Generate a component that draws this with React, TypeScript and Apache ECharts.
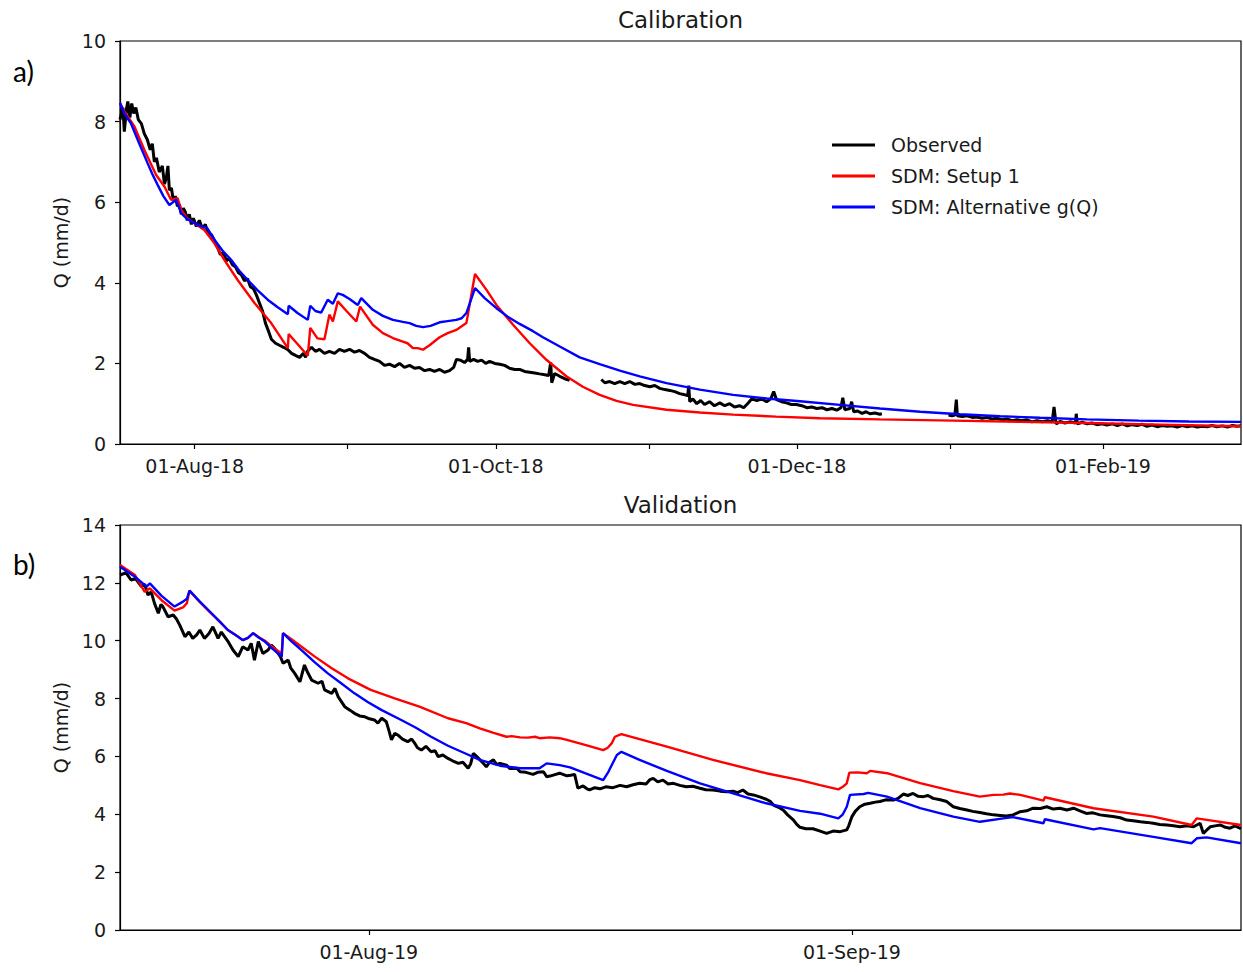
import React, { useEffect, useRef } from "react";
import * as echarts from "echarts";

type Pt = [string, number | null];

// ---------------- Calibration (a) ----------------
const calObserved: Pt[] = [
  ["2018-07-16 21", 8.05], ["2018-07-17 11", 8.35], ["2018-07-17 18", 7.75], ["2018-07-18 04", 8.3],
  ["2018-07-18 11", 8.5], ["2018-07-18 21", 8.1], ["2018-07-19 06", 8.45], ["2018-07-19 16", 8.2],
  ["2018-07-20 02", 8.35], ["2018-07-20 14", 8.05], ["2018-07-21 05", 7.95], ["2018-07-21 19", 7.7],
  ["2018-07-22 10", 7.55], ["2018-07-23 00", 7.3], ["2018-07-23 10", 7.45], ["2018-07-23 20", 7.0],
  ["2018-07-24 06", 7.1], ["2018-07-24 20", 6.75], ["2018-07-25 11", 6.9], ["2018-07-25 21", 6.45],
  ["2018-07-26 06", 6.6], ["2018-07-26 14", 6.9], ["2018-07-26 21", 6.3], ["2018-07-27 07", 6.35],
  ["2018-07-27 16", 6.05], ["2018-07-28 02", 6.15], ["2018-07-28 12", 5.9], ["2018-07-28 22", 5.95],
  ["2018-07-29 07", 5.7], ["2018-07-29 17", 5.85], ["2018-07-30 03", 5.75], ["2018-07-30 12", 5.55],
  ["2018-07-30 22", 5.7], ["2018-07-31 08", 5.45], ["2018-07-31 18", 5.6], ["2018-08-01 08", 5.4],
  ["2018-08-01 23", 5.55], ["2018-08-02 13", 5.35], ["2018-08-03 04", 5.45], ["2018-08-03 19", 5.2],
  ["2018-08-04 09", 5.2], ["2018-08-05 00", 5.05], ["2018-08-05 14", 4.9], ["2018-08-06 05", 4.7],
  ["2018-08-06 20", 4.75], ["2018-08-07 10", 4.55], ["2018-08-08 01", 4.6], ["2018-08-08 15", 4.45],
  ["2018-08-09 06", 4.4], ["2018-08-09 21", 4.25], ["2018-08-10 11", 4.2], ["2018-08-11 02", 4.05],
  ["2018-08-11 17", 4.1], ["2018-08-12 07", 3.9], ["2018-08-12 22", 3.85], ["2018-08-13 12", 3.7],
  ["2018-08-14 03", 3.5], ["2018-08-14 18", 3.3], ["2018-08-15 08", 3.0], ["2018-08-15 23", 2.8],
  ["2018-08-16 13", 2.6], ["2018-08-17 09", 2.5], ["2018-08-18 04", 2.45], ["2018-08-19 00", 2.4],
  ["2018-08-19 19", 2.35], ["2018-08-20 15", 2.25], ["2018-08-21 10", 2.2], ["2018-08-22 06", 2.15],
  ["2018-08-23 01", 2.25], ["2018-08-23 11", 2.15], ["2018-08-23 21", 2.3], ["2018-08-24 16", 2.4],
  ["2018-08-25 11", 2.3], ["2018-08-26 07", 2.35], ["2018-08-27 07", 2.25], ["2018-08-28 07", 2.3],
  ["2018-08-29 08", 2.25], ["2018-08-30 08", 2.35], ["2018-08-31 08", 2.3], ["2018-09-01 09", 2.35],
  ["2018-09-02 09", 2.28], ["2018-09-03 09", 2.32], ["2018-09-04 10", 2.25], ["2018-09-05 10", 2.15],
  ["2018-09-06 10", 2.1], ["2018-09-07 11", 2.05], ["2018-09-08 11", 1.95], ["2018-09-09 11", 1.98],
  ["2018-09-10 12", 1.92], ["2018-09-11 12", 2.0], ["2018-09-12 12", 1.9], ["2018-09-13 13", 1.95],
  ["2018-09-14 13", 1.88], ["2018-09-15 13", 1.9], ["2018-09-16 14", 1.82], ["2018-09-17 14", 1.85],
  ["2018-09-18 14", 1.8], ["2018-09-19 15", 1.85], ["2018-09-20 15", 1.78], ["2018-09-21 15", 1.82],
  ["2018-09-22 11", 1.9], ["2018-09-23 01", 2.1], ["2018-09-23 21", 2.08], ["2018-09-24 16", 2.02],
  ["2018-09-25 07", 2.1], ["2018-09-25 12", 2.4], ["2018-09-25 17", 2.05], ["2018-09-26 12", 2.1],
  ["2018-09-27 08", 2.05], ["2018-09-28 03", 2.08], ["2018-09-28 23", 2.0], ["2018-09-29 18", 2.05],
  ["2018-09-30 19", 2.0], ["2018-10-01 19", 1.98], ["2018-10-02 19", 1.95], ["2018-10-03 19", 1.88],
  ["2018-10-04 20", 1.85], ["2018-10-05 20", 1.85], ["2018-10-06 20", 1.8], ["2018-10-07 21", 1.78],
  ["2018-10-08 21", 1.76], ["2018-10-09 21", 1.74], ["2018-10-10 22", 1.72], ["2018-10-11 17", 1.7],
  ["2018-10-12 03", 2.02], ["2018-10-12 08", 1.52], ["2018-10-12 22", 1.75], ["2018-10-13 23", 1.68],
  ["2018-10-14 23", 1.62], ["2018-10-15 23", 1.58], ["2018-10-19 00", null],
  ["2018-10-22 09", 1.6], ["2018-10-23 02", 1.52], ["2018-10-24 02", 1.55], ["2018-10-25 02", 1.5],
  ["2018-10-26 03", 1.55], ["2018-10-27 03", 1.5], ["2018-10-28 03", 1.55], ["2018-10-29 04", 1.48],
  ["2018-10-30 04", 1.5], ["2018-10-31 04", 1.45], ["2018-11-01 05", 1.42], ["2018-11-02 05", 1.45],
  ["2018-11-03 05", 1.38], ["2018-11-04 06", 1.35], ["2018-11-05 06", 1.33], ["2018-11-06 06", 1.3],
  ["2018-11-07 06", 1.25], ["2018-11-08 07", 1.22], ["2018-11-08 21", 1.2], ["2018-11-09 02", 1.45],
  ["2018-11-09 07", 1.05], ["2018-11-09 22", 1.12], ["2018-11-10 17", 1.0], ["2018-11-11 12", 1.08],
  ["2018-11-12 07", 0.98], ["2018-11-13 07", 1.05], ["2018-11-14 07", 0.95], ["2018-11-15 09", 1.02],
  ["2018-11-16 09", 0.95], ["2018-11-17 09", 1.0], ["2018-11-18 09", 0.92], ["2018-11-19 09", 0.95],
  ["2018-11-20 05", 0.9], ["2018-11-21 00", 1.0], ["2018-11-21 21", 1.12], ["2018-11-22 21", 1.08],
  ["2018-11-23 21", 1.12], ["2018-11-24 21", 1.05], ["2018-11-25 17", 1.12], ["2018-11-26 07", 1.3],
  ["2018-11-26 21", 1.1], ["2018-11-27 21", 1.05], ["2018-11-28 21", 1.02], ["2018-11-29 21", 0.98],
  ["2018-11-30 21", 0.98], ["2018-12-02 00", 0.95], ["2018-12-03 00", 0.9], ["2018-12-04 00", 0.92],
  ["2018-12-05 00", 0.88], ["2018-12-06 02", 0.9], ["2018-12-07 02", 0.85], ["2018-12-08 02", 0.88],
  ["2018-12-09 02", 0.84], ["2018-12-09 22", 0.9], ["2018-12-10 07", 1.15], ["2018-12-10 17", 0.85],
  ["2018-12-11 17", 0.88], ["2018-12-12 02", 1.05], ["2018-12-12 12", 0.8], ["2018-12-13 07", 0.82],
  ["2018-12-14 05", 0.76], ["2018-12-15 00", 0.8], ["2018-12-15 19", 0.75], ["2018-12-16 19", 0.77],
  ["2018-12-17 19", 0.74], ["2018-12-18 05", 0.75], ["2018-12-25 00", null],
  ["2018-12-31 17", 0.72], ["2019-01-01 10", 0.7], ["2019-01-02 00", 0.72], ["2019-01-02 07", 1.1],
  ["2019-01-02 12", 0.7], ["2019-01-03 12", 0.68], ["2019-01-04 12", 0.7], ["2019-01-05 12", 0.66],
  ["2019-01-06 12", 0.67], ["2019-01-07 12", 0.64], ["2019-01-08 12", 0.66], ["2019-01-09 12", 0.62],
  ["2019-01-10 12", 0.64], ["2019-01-11 14", 0.6], ["2019-01-12 14", 0.62], ["2019-01-13 14", 0.58],
  ["2019-01-14 14", 0.6], ["2019-01-15 14", 0.58], ["2019-01-16 14", 0.6], ["2019-01-17 14", 0.55],
  ["2019-01-18 14", 0.58], ["2019-01-19 17", 0.55], ["2019-01-20 17", 0.58], ["2019-01-21 17", 0.55],
  ["2019-01-22 02", 0.92], ["2019-01-22 12", 0.5], ["2019-01-23 07", 0.56], ["2019-01-24 07", 0.52],
  ["2019-01-25 07", 0.55], ["2019-01-26 10", 0.52], ["2019-01-26 14", 0.75], ["2019-01-26 19", 0.5],
  ["2019-01-27 19", 0.54], ["2019-01-28 19", 0.5], ["2019-01-29 19", 0.52], ["2019-01-30 19", 0.48],
  ["2019-01-31 19", 0.5], ["2019-02-01 19", 0.47], ["2019-02-02 22", 0.5], ["2019-02-03 22", 0.46],
  ["2019-02-04 22", 0.5], ["2019-02-05 22", 0.45], ["2019-02-06 22", 0.48], ["2019-02-07 22", 0.46],
  ["2019-02-08 22", 0.49], ["2019-02-09 22", 0.44], ["2019-02-10 22", 0.47], ["2019-02-12 00", 0.43],
  ["2019-02-13 00", 0.46], ["2019-02-14 00", 0.44], ["2019-02-15 00", 0.45], ["2019-02-16 00", 0.42],
  ["2019-02-17 02", 0.46], ["2019-02-18 02", 0.43], ["2019-02-19 02", 0.45], ["2019-02-20 02", 0.42],
  ["2019-02-21 02", 0.44], ["2019-02-22 02", 0.43], ["2019-02-23 02", 0.46], ["2019-02-24 02", 0.43],
  ["2019-02-25 05", 0.45], ["2019-02-26 05", 0.42], ["2019-02-27 05", 0.46], ["2019-02-28 05", 0.44],
  ["2019-02-28 23", 0.45],
];

const calSetup1: Pt[] = [
  ["2018-07-16 21", 8.46], ["2018-07-17 18", 8.25], ["2018-07-19 19", 7.88], ["2018-07-21 19", 7.3],
  ["2018-07-24 04", 6.68], ["2018-07-25 21", 6.39], ["2018-07-27 05", 6.06], ["2018-07-28 13", 6.1],
  ["2018-07-29 06", 5.81], ["2018-07-30 12", 5.6], ["2018-07-31 23", 5.48], ["2018-08-02 23", 5.31],
  ["2018-08-05 00", 4.98], ["2018-08-07 00", 4.57], ["2018-08-09 17", 4.07], ["2018-08-13 03", 3.5],
  ["2018-08-16 12", 3.0], ["2018-08-19 21", 2.38], ["2018-08-20 01", 2.73], ["2018-08-23 22", 2.19],
  ["2018-08-24 10", 2.88], ["2018-08-25 21", 2.62], ["2018-08-27 07", 2.6], ["2018-08-28 07", 3.21],
  ["2018-08-29 00", 3.04], ["2018-08-30 00", 3.54], ["2018-08-31 18", 3.3], ["2018-09-02 18", 3.04],
  ["2018-09-03 12", 3.41], ["2018-09-06 02", 2.96], ["2018-09-08 03", 2.75], ["2018-09-10 04", 2.63],
  ["2018-09-12 04", 2.54], ["2018-09-13 03", 2.5], ["2018-09-14 05", 2.38], ["2018-09-15 04", 2.38],
  ["2018-09-16 06", 2.34], ["2018-09-17 14", 2.45], ["2018-09-19 15", 2.65], ["2018-09-21 06", 2.75],
  ["2018-09-23 00", 2.83], ["2018-09-24 02", 2.92], ["2018-09-25 01", 3.0], ["2018-09-26 19", 4.22],
  ["2018-09-29 02", 3.83], ["2018-10-01 03", 3.45], ["2018-10-04 12", 2.96], ["2018-10-07 21", 2.5],
  ["2018-10-11 06", 2.09], ["2018-10-15 07", 1.68], ["2018-10-18 15", 1.42], ["2018-10-22 01", 1.22],
  ["2018-10-25 11", 1.07], ["2018-10-28 19", 0.97], ["2018-11-04 14", 0.85], ["2018-11-11 08", 0.78],
  ["2018-11-18 02", 0.73], ["2018-11-26 18", 0.68], ["2018-12-05 16", 0.64], ["2018-12-17 20", 0.61],
  ["2019-01-01 15", 0.58], ["2019-01-15 05", 0.55], ["2019-01-28 18", 0.52], ["2019-02-12 14", 0.48],
  ["2019-02-28 23", 0.44],
];

const calAltGQ: Pt[] = [
  ["2018-07-16 21", 8.46], ["2018-07-17 18", 8.2], ["2018-07-19 02", 7.96], ["2018-07-20 19", 7.45],
  ["2018-07-22 11", 6.97], ["2018-07-23 10", 6.7], ["2018-07-24 12", 6.43], ["2018-07-25 16", 6.15],
  ["2018-07-26 21", 5.93], ["2018-07-28 06", 6.06], ["2018-07-29 06", 5.73], ["2018-07-30 12", 5.58],
  ["2018-07-31 23", 5.48], ["2018-08-01 23", 5.42], ["2018-08-02 23", 5.38], ["2018-08-03 14", 5.35],
  ["2018-08-05 00", 5.07], ["2018-08-06 15", 4.8], ["2018-08-08 09", 4.57], ["2018-08-10 01", 4.3],
  ["2018-08-11 18", 4.07], ["2018-08-13 17", 3.82], ["2018-08-15 19", 3.58], ["2018-08-17 18", 3.4],
  ["2018-08-19 21", 3.22], ["2018-08-20 01", 3.43], ["2018-08-21 20", 3.25], ["2018-08-23 22", 3.08],
  ["2018-08-24 10", 3.43], ["2018-08-25 11", 3.3], ["2018-08-26 15", 3.26], ["2018-08-27 23", 3.58],
  ["2018-08-29 00", 3.48], ["2018-08-30 00", 3.74], ["2018-08-31 00", 3.7], ["2018-09-01 09", 3.6],
  ["2018-09-03 01", 3.45], ["2018-09-03 18", 3.62], ["2018-09-06 02", 3.33], ["2018-09-08 03", 3.18],
  ["2018-09-10 04", 3.08], ["2018-09-12 04", 3.03], ["2018-09-13 13", 3.0], ["2018-09-14 21", 2.93],
  ["2018-09-16 06", 2.9], ["2018-09-17 19", 2.93], ["2018-09-19 15", 3.02], ["2018-09-21 06", 3.05],
  ["2018-09-23 00", 3.08], ["2018-09-24 02", 3.12], ["2018-09-25 01", 3.25], ["2018-09-26 19", 3.87],
  ["2018-09-28 18", 3.62], ["2018-10-01 03", 3.37], ["2018-10-03 10", 3.16], ["2018-10-05 20", 2.98],
  ["2018-10-08 13", 2.8], ["2018-10-10 13", 2.65], ["2018-10-13 23", 2.42], ["2018-10-18 00", 2.15],
  ["2018-10-22 01", 1.98], ["2018-10-26 03", 1.82], ["2018-10-30 04", 1.68], ["2018-11-04 14", 1.51],
  ["2018-11-11 08", 1.35], ["2018-11-18 02", 1.22], ["2018-11-24 21", 1.13], ["2018-12-01 15", 1.06],
  ["2018-12-09 17", 0.97], ["2018-12-17 20", 0.88], ["2018-12-25 23", 0.8], ["2019-01-03 01", 0.74],
  ["2019-01-11 04", 0.69], ["2019-01-19 06", 0.65], ["2019-01-28 18", 0.61], ["2019-02-08 06", 0.58],
  ["2019-02-18 10", 0.56], ["2019-02-28 23", 0.55],
];

// ---------------- Validation (b) ----------------
const valObserved: Pt[] = [
  ["2019-07-16 01", 12.27], ["2019-07-16 10", 12.35], ["2019-07-16 18", 12.1], ["2019-07-17 01", 12.15],
  ["2019-07-17 10", 11.87], ["2019-07-17 15", 11.95], ["2019-07-17 20", 11.58], ["2019-07-18 01", 11.69],
  ["2019-07-18 06", 11.3], ["2019-07-18 12", 10.95], ["2019-07-18 16", 11.25], ["2019-07-18 19", 11.18],
  ["2019-07-19 03", 10.83], ["2019-07-19 11", 10.89], ["2019-07-19 16", 10.75], ["2019-07-19 21", 10.54],
  ["2019-07-20 05", 10.14], ["2019-07-20 11", 10.3], ["2019-07-20 17", 10.08], ["2019-07-20 23", 10.2],
  ["2019-07-21 04", 10.37], ["2019-07-21 11", 10.08], ["2019-07-21 18", 10.25], ["2019-07-22 00", 10.48],
  ["2019-07-22 08", 10.08], ["2019-07-22 13", 10.3], ["2019-07-22 18", 10.14], ["2019-07-23 00", 9.95],
  ["2019-07-23 07", 9.68], ["2019-07-23 15", 9.45], ["2019-07-23 22", 9.79], ["2019-07-24 06", 9.68],
  ["2019-07-24 11", 9.91], ["2019-07-24 16", 9.33], ["2019-07-24 22", 9.97], ["2019-07-25 05", 9.56],
  ["2019-07-25 13", 9.68], ["2019-07-25 18", 9.85], ["2019-07-25 23", 9.74], ["2019-07-26 08", 9.45],
  ["2019-07-26 12", 9.22], ["2019-07-26 20", 9.33], ["2019-07-27 00", 9.05], ["2019-07-27 06", 8.87],
  ["2019-07-27 14", 8.58], ["2019-07-27 21", 9.16], ["2019-07-28 02", 8.9], ["2019-07-28 08", 8.64],
  ["2019-07-28 18", 8.53], ["2019-07-29 00", 8.6], ["2019-07-29 04", 8.3], ["2019-07-29 15", 8.18],
  ["2019-07-29 20", 8.35], ["2019-07-30 01", 8.06], ["2019-07-30 11", 7.72], ["2019-07-30 19", 7.6],
  ["2019-07-31 02", 7.49], ["2019-07-31 10", 7.4], ["2019-07-31 18", 7.37], ["2019-08-01 01", 7.3],
  ["2019-08-01 09", 7.26], ["2019-08-01 14", 7.15], ["2019-08-01 20", 7.32], ["2019-08-02 03", 7.2],
  ["2019-08-02 07", 6.9], ["2019-08-02 11", 6.57], ["2019-08-02 16", 6.8], ["2019-08-02 21", 6.74],
  ["2019-08-03 04", 6.6], ["2019-08-03 12", 6.51], ["2019-08-03 18", 6.6], ["2019-08-03 23", 6.45],
  ["2019-08-04 03", 6.3], ["2019-08-04 09", 6.22], ["2019-08-04 16", 6.35], ["2019-08-05 00", 6.16],
  ["2019-08-05 06", 6.2], ["2019-08-05 11", 5.99], ["2019-08-05 18", 6.05], ["2019-08-06 02", 5.93],
  ["2019-08-06 09", 5.85], ["2019-08-06 18", 5.76], ["2019-08-07 01", 5.8], ["2019-08-07 09", 5.59],
  ["2019-08-07 13", 5.75], ["2019-08-07 17", 6.11], ["2019-08-07 22", 6.0], ["2019-08-08 06", 5.82],
  ["2019-08-08 13", 5.64], ["2019-08-08 18", 5.8], ["2019-08-09 00", 5.88], ["2019-08-09 05", 5.72],
  ["2019-08-09 10", 5.76], ["2019-08-09 20", 5.7], ["2019-08-10 01", 5.58], ["2019-08-10 12", 5.59],
  ["2019-08-10 17", 5.47], ["2019-08-11 02", 5.45], ["2019-08-11 13", 5.38], ["2019-08-11 20", 5.45],
  ["2019-08-12 05", 5.47], ["2019-08-12 10", 5.3], ["2019-08-12 15", 5.32], ["2019-08-13 00", 5.38],
  ["2019-08-13 06", 5.42], ["2019-08-13 17", 5.33], ["2019-08-13 23", 5.35], ["2019-08-14 05", 5.38],
  ["2019-08-14 10", 4.9], ["2019-08-14 18", 4.98], ["2019-08-15 00", 4.88], ["2019-08-15 04", 4.84],
  ["2019-08-15 12", 4.92], ["2019-08-15 20", 4.88], ["2019-08-16 05", 4.95], ["2019-08-16 16", 4.92],
  ["2019-08-17 03", 5.0], ["2019-08-17 13", 4.95], ["2019-08-17 23", 5.02], ["2019-08-18 09", 5.07],
  ["2019-08-18 19", 5.05], ["2019-08-19 01", 5.2], ["2019-08-19 06", 5.24], ["2019-08-19 13", 5.12],
  ["2019-08-19 21", 5.18], ["2019-08-20 05", 5.05], ["2019-08-20 13", 5.07], ["2019-08-20 23", 5.0],
  ["2019-08-21 09", 4.95], ["2019-08-21 19", 4.97], ["2019-08-22 06", 4.9], ["2019-08-22 15", 4.85],
  ["2019-08-23 02", 4.84], ["2019-08-23 13", 4.8], ["2019-08-23 23", 4.78], ["2019-08-24 09", 4.8],
  ["2019-08-24 16", 4.75], ["2019-08-25 00", 4.84], ["2019-08-25 08", 4.7], ["2019-08-25 16", 4.67],
  ["2019-08-26 02", 4.6], ["2019-08-26 12", 4.52], ["2019-08-26 18", 4.45], ["2019-08-26 23", 4.32],
  ["2019-08-27 06", 4.25], ["2019-08-27 14", 4.15], ["2019-08-27 21", 3.98], ["2019-08-28 06", 3.8],
  ["2019-08-28 11", 3.65], ["2019-08-28 16", 3.55], ["2019-08-29 01", 3.5], ["2019-08-29 12", 3.5],
  ["2019-08-29 23", 3.42], ["2019-08-30 09", 3.34], ["2019-08-30 19", 3.42], ["2019-08-31 06", 3.4],
  ["2019-08-31 16", 3.46], ["2019-08-31 19", 3.6], ["2019-09-01 00", 3.92], ["2019-09-01 05", 4.1],
  ["2019-09-01 12", 4.26], ["2019-09-01 20", 4.35], ["2019-09-02 04", 4.38], ["2019-09-02 12", 4.42],
  ["2019-09-02 19", 4.44], ["2019-09-03 04", 4.5], ["2019-09-03 16", 4.49], ["2019-09-03 23", 4.55],
  ["2019-09-04 07", 4.7], ["2019-09-04 14", 4.65], ["2019-09-04 22", 4.72], ["2019-09-05 06", 4.62],
  ["2019-09-05 14", 4.61], ["2019-09-05 21", 4.65], ["2019-09-06 05", 4.55], ["2019-09-06 16", 4.5],
  ["2019-09-07 02", 4.44], ["2019-09-07 12", 4.26], ["2019-09-07 22", 4.2], ["2019-09-08 09", 4.15],
  ["2019-09-08 18", 4.1], ["2019-09-09 05", 4.06], ["2019-09-09 15", 4.02], ["2019-09-10 02", 3.98],
  ["2019-09-10 12", 3.96], ["2019-09-10 22", 3.94], ["2019-09-11 08", 3.98], ["2019-09-11 19", 4.09],
  ["2019-09-12 05", 4.12], ["2019-09-12 15", 4.21], ["2019-09-13 02", 4.2], ["2019-09-13 12", 4.26],
  ["2019-09-13 22", 4.18], ["2019-09-14 08", 4.21], ["2019-09-14 19", 4.15], ["2019-09-15 05", 4.21],
  ["2019-09-15 15", 4.12], ["2019-09-16 01", 4.03], ["2019-09-16 11", 4.05], ["2019-09-16 22", 3.98],
  ["2019-09-17 08", 3.95], ["2019-09-17 18", 3.92], ["2019-09-18 05", 3.88], ["2019-09-18 15", 3.8],
  ["2019-09-19 01", 3.78], ["2019-09-19 12", 3.74], ["2019-09-19 22", 3.72], ["2019-09-20 08", 3.69],
  ["2019-09-20 18", 3.65], ["2019-09-21 05", 3.63], ["2019-09-21 15", 3.6], ["2019-09-22 01", 3.57],
  ["2019-09-22 12", 3.6], ["2019-09-22 22", 3.57], ["2019-09-23 08", 3.69], ["2019-09-23 13", 3.34],
  ["2019-09-23 18", 3.45], ["2019-09-24 00", 3.57], ["2019-09-24 07", 3.6], ["2019-09-24 15", 3.63],
  ["2019-09-24 23", 3.55], ["2019-09-25 06", 3.52], ["2019-09-25 14", 3.6], ["2019-09-25 23", 3.5],
];

const valSetup1: Pt[] = [
  ["2019-07-16 01", 12.62], ["2019-07-17 00", 12.27], ["2019-07-17 15", 11.69], ["2019-07-17 23", 11.81],
  ["2019-07-18 17", 11.4], ["2019-07-19 13", 11.04], ["2019-07-20 02", 11.15], ["2019-07-20 08", 11.3],
  ["2019-07-20 12", 11.73], ["2019-07-21 04", 11.33], ["2019-07-21 22", 10.93], ["2019-07-22 11", 10.65],
  ["2019-07-22 23", 10.37], ["2019-07-23 11", 10.2], ["2019-07-23 22", 10.02], ["2019-07-24 06", 10.1],
  ["2019-07-24 14", 10.26], ["2019-07-24 23", 10.12], ["2019-07-25 08", 10.0], ["2019-07-25 20", 9.78],
  ["2019-07-26 10", 9.55], ["2019-07-26 12", 10.26], ["2019-07-27 01", 10.05], ["2019-07-27 16", 9.8],
  ["2019-07-28 13", 9.45], ["2019-07-29 15", 9.05], ["2019-07-30 16", 8.7], ["2019-08-01 03", 8.3],
  ["2019-08-02 16", 8.01], ["2019-08-04 06", 7.72], ["2019-08-06 02", 7.32], ["2019-08-07 06", 7.15],
  ["2019-08-08 03", 6.97], ["2019-08-08 23", 6.82], ["2019-08-09 20", 6.68], ["2019-08-10 04", 6.7],
  ["2019-08-10 17", 6.66], ["2019-08-11 05", 6.65], ["2019-08-11 16", 6.68], ["2019-08-11 23", 6.63],
  ["2019-08-12 15", 6.66], ["2019-08-13 06", 6.63], ["2019-08-13 17", 6.57], ["2019-08-14 21", 6.4],
  ["2019-08-16 01", 6.22], ["2019-08-16 08", 6.3], ["2019-08-16 14", 6.45], ["2019-08-16 19", 6.68],
  ["2019-08-17 05", 6.77], ["2019-08-20 03", 6.34], ["2019-08-23 02", 5.88], ["2019-08-26 12", 5.42],
  ["2019-08-28 16", 5.18], ["2019-08-29 23", 5.01], ["2019-08-31 03", 4.86], ["2019-08-31 10", 4.95],
  ["2019-08-31 16", 5.07], ["2019-08-31 20", 5.44], ["2019-09-01 09", 5.45], ["2019-09-01 23", 5.42],
  ["2019-09-02 04", 5.5], ["2019-09-03 06", 5.42], ["2019-09-05 09", 5.08], ["2019-09-07 12", 4.8],
  ["2019-09-09 05", 4.61], ["2019-09-10 02", 4.67], ["2019-09-10 17", 4.68], ["2019-09-11 03", 4.72],
  ["2019-09-11 19", 4.67], ["2019-09-13 07", 4.47], ["2019-09-13 09", 4.59], ["2019-09-16 12", 4.21],
  ["2019-09-20 08", 3.92], ["2019-09-22 19", 3.63], ["2019-09-23 03", 3.86], ["2019-09-23 21", 3.8],
  ["2019-09-25 23", 3.63],
];

const valAltGQ: Pt[] = [
  ["2019-07-16 01", 12.56], ["2019-07-17 00", 12.21], ["2019-07-17 18", 11.87], ["2019-07-17 23", 11.98],
  ["2019-07-18 17", 11.55], ["2019-07-19 13", 11.18], ["2019-07-20 02", 11.35], ["2019-07-20 08", 11.45],
  ["2019-07-20 12", 11.73], ["2019-07-21 04", 11.35], ["2019-07-21 22", 10.95], ["2019-07-22 11", 10.65],
  ["2019-07-22 23", 10.37], ["2019-07-23 11", 10.2], ["2019-07-23 22", 10.02], ["2019-07-24 06", 10.1],
  ["2019-07-24 14", 10.26], ["2019-07-24 23", 10.1], ["2019-07-25 08", 9.97], ["2019-07-25 20", 9.72],
  ["2019-07-26 10", 9.45], ["2019-07-26 12", 10.26], ["2019-07-27 01", 9.98], ["2019-07-27 16", 9.68],
  ["2019-07-28 13", 9.25], ["2019-07-29 09", 8.87], ["2019-07-30 06", 8.52], ["2019-07-31 02", 8.18],
  ["2019-07-31 23", 7.87], ["2019-08-01 20", 7.6], ["2019-08-03 02", 7.26], ["2019-08-04 00", 7.0],
  ["2019-08-05 00", 6.68], ["2019-08-06 02", 6.37], ["2019-08-07 04", 6.11], ["2019-08-08 03", 5.88],
  ["2019-08-09 10", 5.68], ["2019-08-10 17", 5.59], ["2019-08-11 23", 5.59], ["2019-08-12 10", 5.76],
  ["2019-08-13 06", 5.7], ["2019-08-13 22", 5.62], ["2019-08-14 21", 5.42], ["2019-08-16 01", 5.18],
  ["2019-08-16 09", 5.47], ["2019-08-16 22", 6.05], ["2019-08-17 05", 6.16], ["2019-08-18 09", 5.88],
  ["2019-08-20 03", 5.5], ["2019-08-22 06", 5.07], ["2019-08-24 09", 4.72], ["2019-08-26 12", 4.38],
  ["2019-08-28 16", 4.12], ["2019-08-29 23", 4.02], ["2019-08-31 03", 3.86], ["2019-08-31 10", 4.0],
  ["2019-08-31 16", 4.26], ["2019-08-31 21", 4.67], ["2019-09-01 18", 4.7], ["2019-09-02 01", 4.74],
  ["2019-09-03 06", 4.61], ["2019-09-05 09", 4.21], ["2019-09-07 12", 3.92], ["2019-09-09 05", 3.74],
  ["2019-09-10 17", 3.86], ["2019-09-11 08", 3.9], ["2019-09-13 07", 3.69], ["2019-09-13 09", 3.83],
  ["2019-09-16 12", 3.48], ["2019-09-16 22", 3.52], ["2019-09-20 08", 3.22], ["2019-09-22 19", 3.0],
  ["2019-09-23 03", 3.17], ["2019-09-23 18", 3.2], ["2019-09-25 23", 3.0],
];

// ---------------- Axes ----------------
const calRange = ["2018-07-16 21", "2019-02-28 23"];
const valRange = ["2019-07-16 01", "2019-09-25 23"];
const calTicks = ["2018-08-01", "2018-09-01", "2018-10-01", "2018-11-01", "2018-12-01", "2019-01-01", "2019-02-01"];
const calLabels = ["2018-08-01", "2018-10-01", "2018-12-01", "2019-02-01"];
const valTicks = ["2019-08-01", "2019-09-01"];
const valLabels = ["2019-08-01", "2019-09-01"];
const calYMax = 10;
const valYMax = 14;
const yStep = 2;

const seriesNames = ["Observed", "SDM: Setup 1", "SDM: Alternative g(Q)"];
const seriesColors = ["#000000", "#ff0000", "#0000ff"];

const MONTHS = ["Jan", "Feb", "Mar", "Apr", "May", "Jun", "Jul", "Aug", "Sep", "Oct", "Nov", "Dec"];

function toMs(s: string): number {
  const [d, h] = s.split(" ");
  const [y, m, dd] = d.split("-").map(Number);
  return Date.UTC(y, m - 1, dd, h ? Number(h) : 0);
}

function fmtDate(v: number): string {
  const d = new Date(v);
  return `${String(d.getUTCDate()).padStart(2, "0")}-${MONTHS[d.getUTCMonth()]}-${String(d.getUTCFullYear()).slice(2)}`;
}

function toData(pts: Pt[]) {
  return pts.map(([t, v]) => [toMs(t), v === null ? "-" : v]);
}

const FONT = "DejaVu Sans";
const TXT = "#1a1a1a";

function xAxisFor(grid: number, range: string[], ticks: string[], labels: string[]) {
  return {
    gridIndex: grid,
    type: "value",
    min: toMs(range[0]),
    max: toMs(range[1]),
    axisLine: { show: true, onZero: false, lineStyle: { color: "#000", width: 1.2 } },
    axisTick: { show: true, inside: false, length: 5, customValues: ticks.map(toMs), lineStyle: { color: "#000", width: 1.2 } },
    axisLabel: {
      show: true,
      customValues: labels.map(toMs),
      formatter: (v: number) => fmtDate(v),
      fontSize: 19,
      fontFamily: FONT,
      color: TXT,
      margin: 12,
    },
    splitLine: { show: false },
  };
}

function yAxisFor(grid: number, max: number) {
  return {
    gridIndex: grid,
    type: "value",
    min: 0,
    max,
    interval: yStep,
    name: "Q (mm/d)",
    nameLocation: "middle",
    nameGap: 50,
    nameTextStyle: { fontSize: 19, fontFamily: FONT, color: TXT },
    axisLine: { show: true, lineStyle: { color: "#000", width: 1.2 } },
    axisTick: { show: true, inside: false, length: 5, lineStyle: { color: "#000", width: 1.2 } },
    axisLabel: { fontSize: 19, fontFamily: FONT, color: TXT, margin: 14 },
    splitLine: { show: false },
  };
}

function lineSeries(idx: number, axis: number, pts: Pt[], width: number) {
  return {
    type: "line",
    name: seriesNames[idx],
    xAxisIndex: axis,
    yAxisIndex: axis,
    data: toData(pts),
    symbol: "none",
    showSymbol: false,
    connectNulls: false,
    lineStyle: { color: seriesColors[idx], width },
    itemStyle: { color: seriesColors[idx] },
    z: 2 + idx,
  };
}

export default function App() {
  const ref = useRef<HTMLDivElement>(null);

  useEffect(() => {
    document.body.style.margin = "0";
    if (!ref.current) return;
    const chart = echarts.init(ref.current, undefined, { renderer: "svg" });
    chart.setOption({
      animation: false,
      backgroundColor: "#ffffff",
      textStyle: { fontFamily: FONT },
      grid: [
        { left: 120, top: 41, width: 1121, height: 403, show: true, borderColor: "#000", borderWidth: 1.2, backgroundColor: "transparent" },
        { left: 120, top: 525, width: 1121, height: 405, show: true, borderColor: "#000", borderWidth: 1.2, backgroundColor: "transparent" },
      ],
      legend: {
        show: true,
        orient: "vertical",
        left: 832,
        top: 135.5,
        padding: 0,
        itemWidth: 43,
        itemHeight: 3,
        itemGap: 12,
        icon: "rect",
        selectedMode: false,
        data: seriesNames,
        textStyle: { fontSize: 19, fontFamily: FONT, color: TXT, lineHeight: 19, padding: [0, 0, 0, 11] },
      },
      xAxis: [xAxisFor(0, calRange, calTicks, calLabels), xAxisFor(1, valRange, valTicks, valLabels)],
      yAxis: [yAxisFor(0, calYMax), yAxisFor(1, valYMax)],
      series: [
        lineSeries(0, 0, calObserved, 3),
        lineSeries(1, 0, calSetup1, 2.4),
        lineSeries(2, 0, calAltGQ, 2.4),
        lineSeries(0, 1, valObserved, 3),
        lineSeries(1, 1, valSetup1, 2.4),
        lineSeries(2, 1, valAltGQ, 2.4),
      ],
      graphic: [
        { type: "text", x: 680.5, y: 19.5, style: { text: "Calibration", font: `23px "${FONT}"`, fill: TXT, align: "center", verticalAlign: "middle", textAlign: "center", textVerticalAlign: "middle" } },
        { type: "text", x: 680.5, y: 505, style: { text: "Validation", font: `23px "${FONT}"`, fill: TXT, align: "center", verticalAlign: "middle", textAlign: "center", textVerticalAlign: "middle" } },
        { type: "text", x: 13, y: 71, style: { text: "a)", font: "28px Lato", fill: "#000", align: "left", verticalAlign: "middle", textAlign: "left", textVerticalAlign: "middle" } },
        { type: "text", x: 13, y: 564, style: { text: "b)", font: "28px Lato", fill: "#000", align: "left", verticalAlign: "middle", textAlign: "left", textVerticalAlign: "middle" } },
      ],
    });
    return () => chart.dispose();
  }, []);

  return <div ref={ref} style={{ width: 1243, height: 972 }} />;
}
